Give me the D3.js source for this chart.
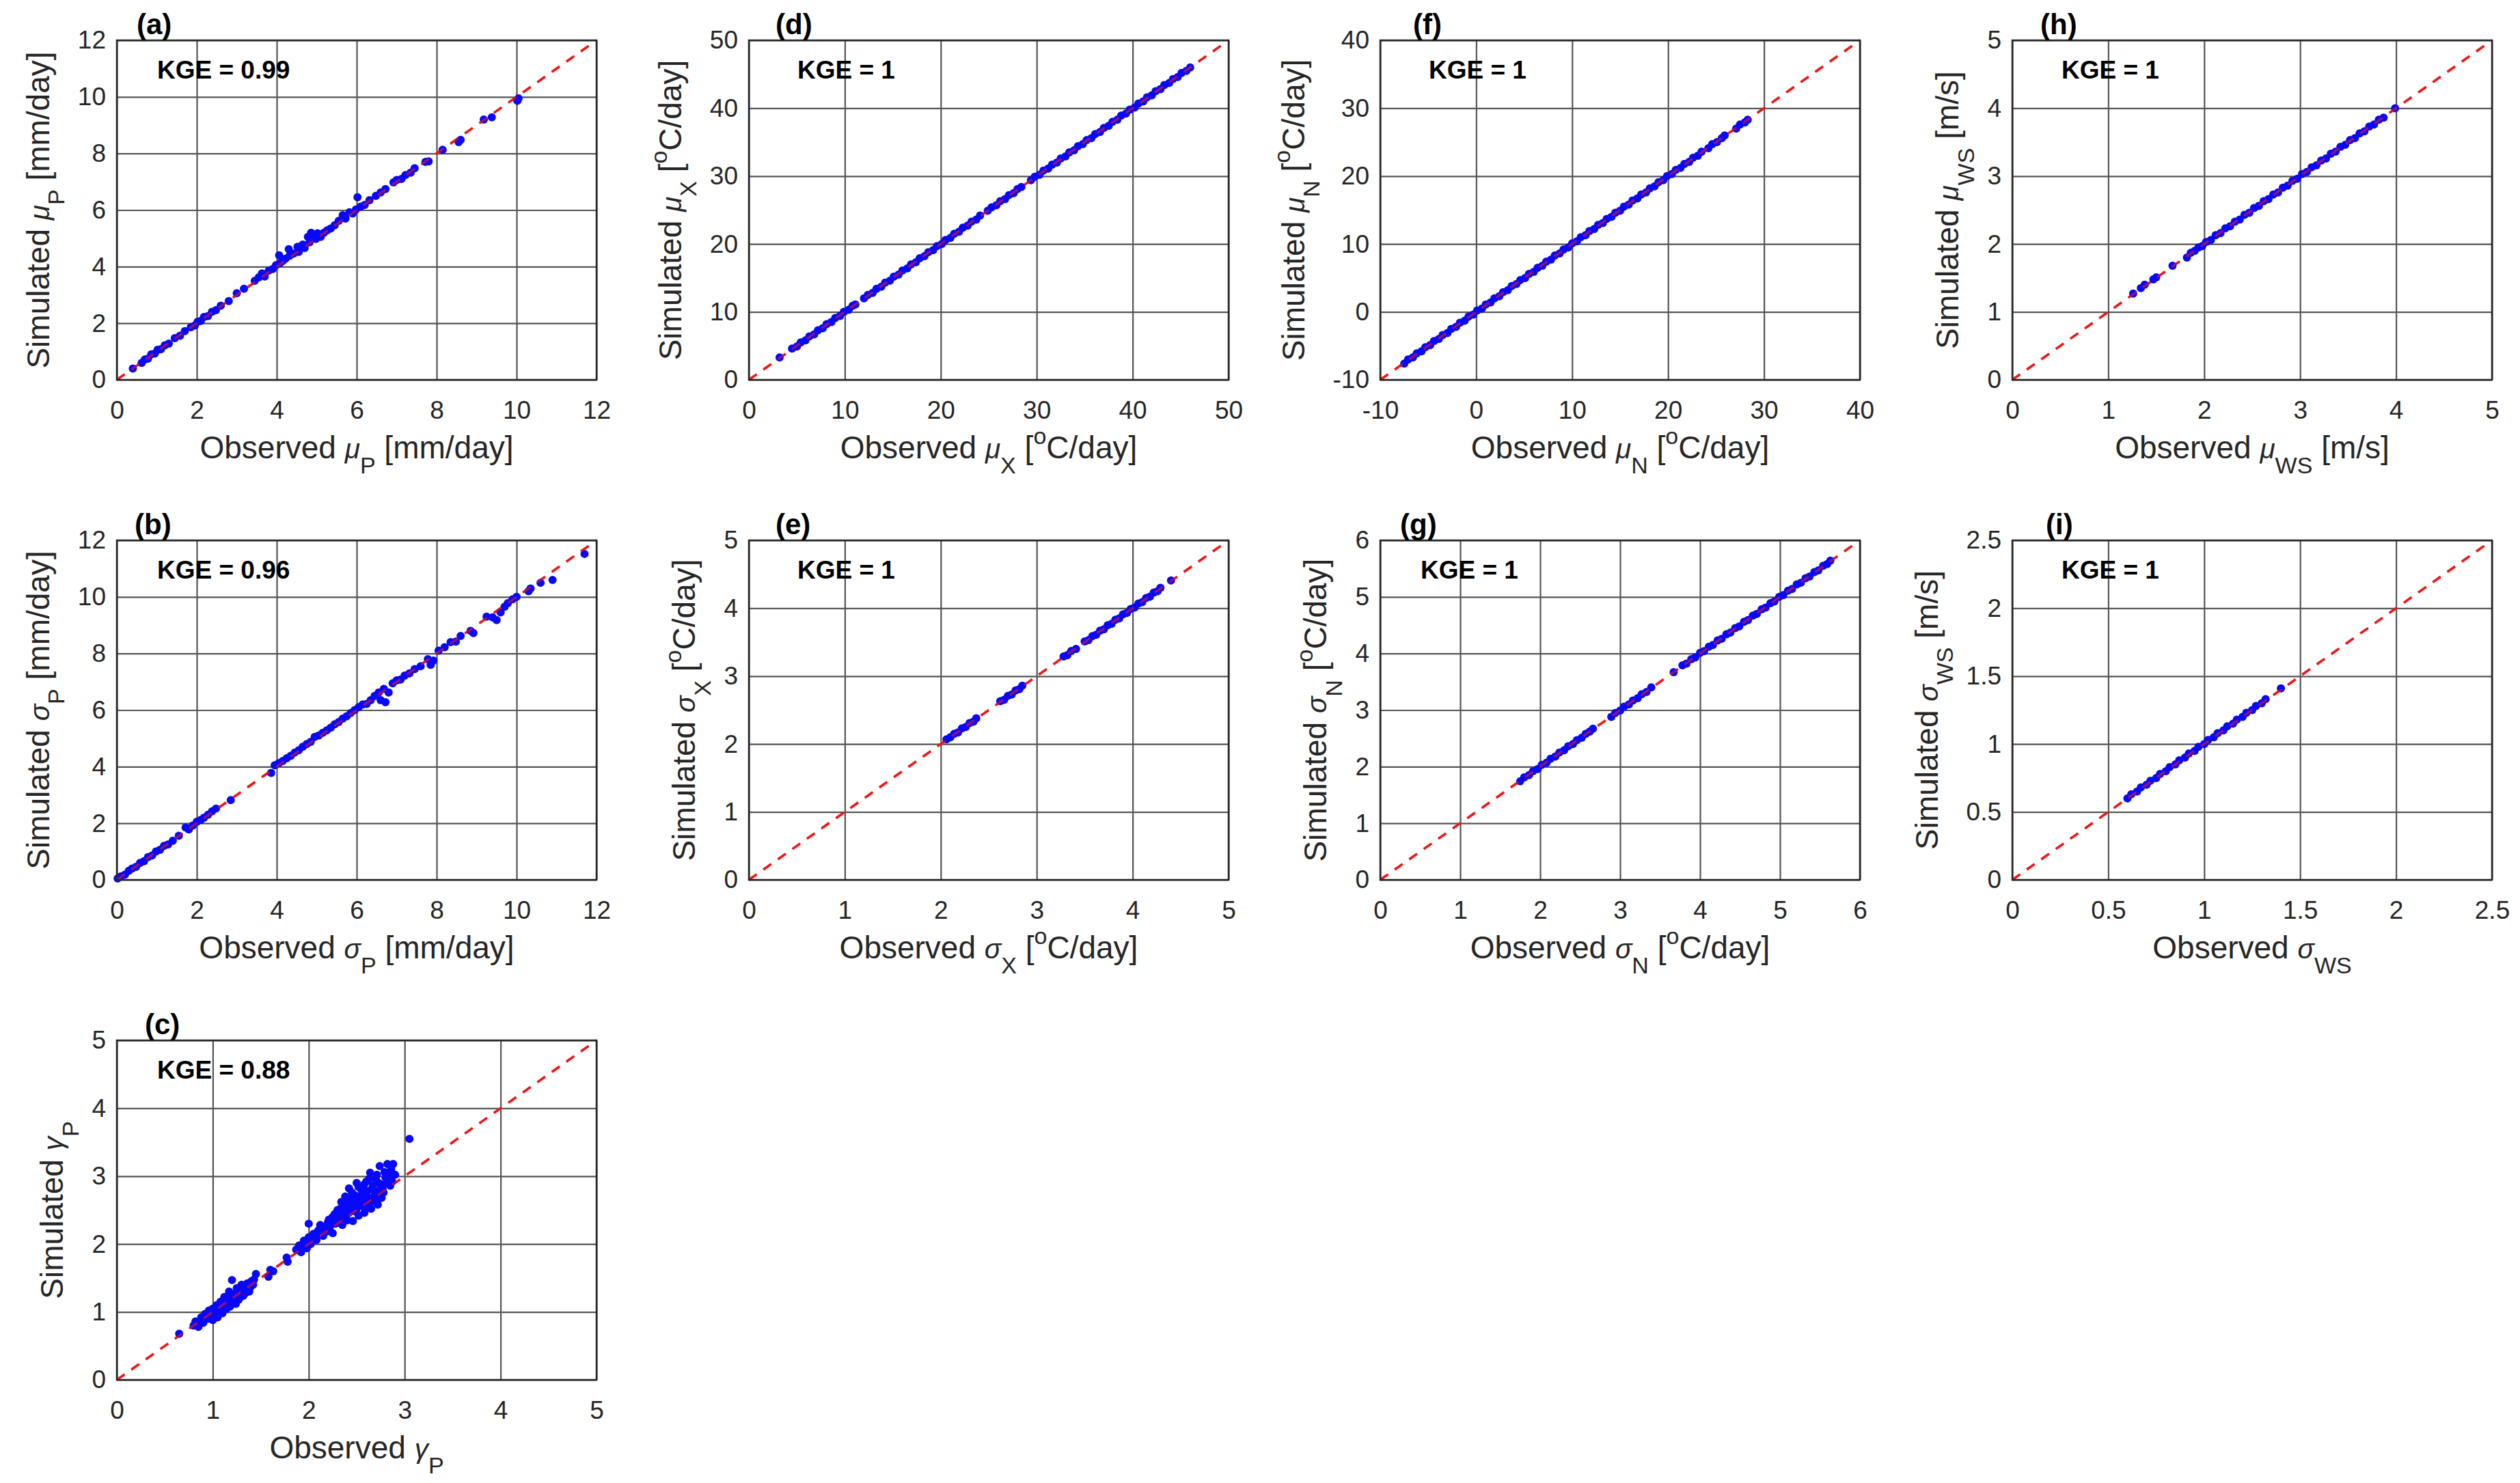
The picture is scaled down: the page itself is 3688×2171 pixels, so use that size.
<!DOCTYPE html>
<html>
<head>
<meta charset="utf-8">
<script src="https://cdn.jsdelivr.net/npm/d3@7"></script>
<style>
  body { margin: 0; background: #fff; }
  svg text { font-family: "Liberation Sans", Arial, Helvetica, sans-serif; white-space: pre; }
</style>
</head>
<body>
<svg id="fig"></svg>
<script>
// ---- data: [observed, simulated] pairs ----
const muP = [
  [0.40,0.40],[0.62,0.60],[0.70,0.72],[0.78,0.75],[0.86,0.90],[0.95,0.93],[1.02,1.06],[1.10,1.08],
  [1.20,1.22],[1.30,1.28],[1.45,1.47],[1.58,1.56],[1.70,1.72],[1.85,1.86],[1.95,1.92],[2.02,2.05],
  [2.10,2.08],[2.18,2.22],[2.28,2.25],[2.38,2.40],[2.48,2.46],[2.60,2.62],[2.80,2.78],[3.00,3.06],
  [3.18,3.22],[3.45,3.50],[3.55,3.62],[3.63,3.76],[3.70,3.65],[3.80,3.86],[3.90,3.92],[3.98,4.05],
  [4.06,4.40],[4.08,4.12],[4.15,4.20],[4.22,4.28],[4.30,4.62],[4.32,4.38],[4.42,4.46],[4.52,4.70],
  [4.55,4.52],[4.65,4.78],[4.70,4.66],[4.78,5.05],[4.82,4.86],[4.86,5.20],[4.92,5.12],[4.98,4.98],
  [5.02,5.18],[5.10,5.05],[5.18,5.20],[5.26,5.28],[5.35,5.35],[5.45,5.46],[5.55,5.62],[5.65,5.82],
  [5.72,5.70],[5.82,5.92],[5.90,5.88],[5.98,6.02],[6.02,6.45],[6.10,6.12],[6.20,6.18],[6.32,6.35],
  [6.48,6.50],[6.60,6.62],[6.72,6.74],[6.92,6.98],[7.00,7.06],[7.12,7.10],[7.22,7.24],[7.35,7.32],
  [7.45,7.48],[7.72,7.70],[7.80,7.72],[8.15,8.13],[8.55,8.40],[8.60,8.48],[9.18,9.20],[9.38,9.28],
  [10.02,9.86],[10.05,9.95]
];
const sigmaP = [
  [0.02,0.05],[0.10,0.12],[0.20,0.18],[0.30,0.32],[0.38,0.40],[0.48,0.46],[0.58,0.60],[0.68,0.66],
  [0.78,0.80],[0.88,0.86],[0.98,1.00],[1.08,1.06],[1.18,1.20],[1.28,1.25],[1.40,1.38],[1.55,1.56],
  [1.72,1.85],[1.80,1.78],[1.90,1.92],[2.00,2.05],[2.10,2.12],[2.18,2.20],[2.28,2.30],[2.38,2.42],
  [2.48,2.52],[2.85,2.82],[3.86,3.78],[3.95,4.05],[4.05,4.12],[4.15,4.20],[4.25,4.30],[4.35,4.38],
  [4.45,4.50],[4.55,4.58],[4.65,4.70],[4.75,4.80],[4.85,4.88],[4.95,5.05],[5.05,5.10],[5.15,5.20],
  [5.25,5.28],[5.35,5.38],[5.45,5.50],[5.55,5.58],[5.65,5.70],[5.75,5.78],[5.85,5.90],[5.95,6.00],
  [6.05,6.10],[6.15,6.20],[6.25,6.22],[6.35,6.35],[6.45,6.50],[6.55,6.62],[6.60,6.35],[6.68,6.75],
  [6.72,6.28],[6.80,6.62],[6.90,6.95],[7.00,7.05],[7.10,7.08],[7.20,7.22],[7.32,7.30],[7.45,7.45],
  [7.60,7.55],[7.78,7.80],[7.85,7.60],[7.92,7.75],[8.05,8.10],[8.20,8.22],[8.35,8.40],[8.48,8.42],
  [8.60,8.62],[8.85,8.80],[8.92,8.72],[9.25,9.30],[9.40,9.28],[9.50,9.18],[9.60,9.45],[9.70,9.65],
  [9.78,9.78],[9.90,9.92],[10.00,10.00],[10.30,10.20],[10.35,10.30],[10.60,10.50],[10.90,10.60],[11.70,11.52]
];
const gammaP = [
  [0.65,0.68],[0.80,0.80],[0.82,0.86],[0.85,0.78],[0.88,0.92],[0.90,0.84],[0.92,0.97],[0.95,0.90],
  [0.96,1.02],[0.98,0.94],[1.00,1.05],[1.00,0.88],[1.02,0.98],[1.04,1.10],[1.05,0.92],[1.06,1.02],
  [1.08,1.15],[1.10,0.98],[1.10,1.06],[1.12,1.22],[1.14,1.04],[1.15,1.12],[1.17,1.30],[1.18,1.08],
  [1.20,1.18],[1.20,1.47],[1.22,1.26],[1.24,1.12],[1.25,1.35],[1.27,1.18],[1.28,1.30],[1.30,1.40],
  [1.32,1.24],[1.35,1.36],[1.38,1.30],[1.40,1.45],[1.42,1.40],[1.45,1.56],[1.58,1.52],[1.60,1.62],
  [1.63,1.60],[1.77,1.80],[1.78,1.74],[1.87,1.92],[1.90,1.98],[1.92,1.88],[1.95,2.05],[1.98,1.94],
  [2.00,2.10],[2.00,2.30],[2.02,2.00],[2.05,2.15],[2.08,2.06],[2.10,2.20],[2.12,2.28],[2.15,2.12],
  [2.18,2.18],[2.20,2.32],[2.22,2.25],[2.25,2.40],[2.25,2.16],[2.28,2.30],[2.30,2.50],[2.32,2.38],
  [2.34,2.62],[2.35,2.28],[2.38,2.45],[2.38,2.70],[2.40,2.55],[2.40,2.35],[2.42,2.82],[2.44,2.48],
  [2.45,2.62],[2.46,2.34],[2.48,2.72],[2.50,2.52],[2.50,2.90],[2.52,2.42],[2.54,2.66],[2.55,2.80],
  [2.56,2.56],[2.58,2.46],[2.60,2.72],[2.60,2.92],[2.62,2.62],[2.64,3.05],[2.65,2.52],[2.66,2.82],
  [2.68,2.70],[2.70,2.96],[2.72,2.58],[2.72,2.78],[2.74,3.15],[2.75,2.88],[2.76,2.68],[2.78,2.76],
  [2.80,2.98],[2.82,3.18],[2.85,2.86],[2.88,3.18],[2.90,3.02],[3.05,3.55],
  [0.84,0.82],[0.87,0.86],[0.93,0.92],[0.97,0.99],[1.03,1.03],[1.07,1.08],[1.09,1.12],[1.13,1.10],
  [1.16,1.18],[1.19,1.24],[1.21,1.14],[1.23,1.20],[1.26,1.25],[1.29,1.22],[1.31,1.32],[1.34,1.28],
  [1.36,1.42],[1.39,1.36],[1.43,1.48],
  [1.94,1.98],[1.97,2.02],[2.03,2.08],[2.06,2.10],[2.09,2.14],[2.13,2.20],[2.16,2.24],[2.19,2.26],
  [2.21,2.36],[2.24,2.30],[2.27,2.44],[2.29,2.36],[2.31,2.44],[2.33,2.52],[2.36,2.40],[2.37,2.56],
  [2.39,2.62],[2.41,2.45],[2.43,2.66],[2.43,2.56],[2.45,2.76],[2.47,2.60],[2.49,2.48],[2.51,2.68],
  [2.52,2.84],[2.53,2.58],[2.55,2.72],[2.57,2.64],[2.58,2.88],[2.59,2.54],[2.61,2.78],[2.63,2.68],
  [2.63,2.96],[2.65,2.62],[2.67,2.86],[2.69,2.76],[2.70,2.64],[2.71,3.02],[2.73,2.90],[2.77,2.82],
  [2.79,3.06],[2.81,2.90],[2.84,3.00],[2.86,3.10],[2.87,2.92]
];
const muX = [
  [3.2,3.3],[4.5,4.6],[5.0,4.9],[5.4,5.5],[5.9,5.8],[6.3,6.4],[6.8,6.7],[7.2,7.3],[7.7,7.6],[8.1,8.2],
  [8.6,8.5],[9.0,9.1],[9.5,9.4],[9.9,10.0],[10.4,10.3],[10.8,10.9],[11.1,11.1],[12.0,12.0],[12.4,12.5],
  [12.9,12.8],[13.3,13.4],[13.8,13.7],[14.2,14.3],[14.7,14.6],[15.1,15.2],[15.6,15.5],[16.0,16.1],
  [16.5,16.4],[16.9,17.0],[17.4,17.3],[17.8,17.9],[18.3,18.2],[18.7,18.8],[19.2,19.1],[19.6,19.7],
  [20.1,20.0],[20.5,20.6],[21.0,20.9],[21.4,21.5],[21.9,21.8],[22.3,22.4],[22.8,22.7],[23.2,23.3],
  [23.7,23.6],[24.1,24.2],[24.9,24.9],[25.3,25.4],[25.8,25.7],[26.2,26.3],[26.7,26.6],[27.1,27.2],
  [27.6,27.5],[28.0,28.1],[28.4,28.4],[29.4,29.4],[29.8,29.9],[30.3,30.2],[30.7,30.8],[31.2,31.1],
  [31.6,31.7],[32.1,32.0],[32.5,32.6],[33.0,32.9],[33.4,33.5],[33.9,33.8],[34.3,34.4],[34.8,34.7],
  [35.2,35.3],[35.7,35.6],[36.1,36.2],[36.6,36.5],[37.0,37.1],[37.5,37.4],[37.9,38.0],[38.4,38.3],
  [38.8,38.9],[39.3,39.2],[39.7,39.8],[40.2,40.1],[40.6,40.7],[41.1,41.0],[41.5,41.6],[42.0,41.9],
  [42.4,42.5],[42.9,42.8],[43.3,43.4],[43.8,43.7],[44.2,44.3],[44.7,44.6],[45.1,45.2],[45.6,45.5],[46.0,46.0]
];
const sigmaX = [
  [2.06,2.07],[2.10,2.10],[2.14,2.15],[2.18,2.17],[2.22,2.23],[2.26,2.25],[2.30,2.31],[2.34,2.33],
  [2.37,2.38],[2.62,2.63],[2.66,2.65],[2.70,2.71],[2.74,2.73],[2.78,2.79],[2.82,2.81],[2.85,2.86],
  [3.28,3.29],[3.32,3.31],[3.36,3.37],[3.41,3.40],[3.50,3.51],[3.54,3.53],[3.58,3.59],[3.62,3.61],
  [3.66,3.67],[3.70,3.69],[3.74,3.75],[3.78,3.77],[3.82,3.83],[3.86,3.85],[3.90,3.91],[3.94,3.93],
  [3.98,3.99],[4.02,4.01],[4.06,4.07],[4.10,4.09],[4.14,4.15],[4.18,4.17],[4.22,4.23],[4.26,4.25],
  [4.29,4.30],[4.40,4.41]
];
const muN = [
  [-7.5,-7.6],[-7.1,-7.0],[-6.6,-6.7],[-6.2,-6.1],[-5.7,-5.8],[-5.3,-5.2],[-4.8,-4.9],[-4.4,-4.3],
  [-3.9,-4.0],[-3.5,-3.4],[-3.0,-3.1],[-2.6,-2.5],[-2.1,-2.2],[-1.7,-1.6],[-1.2,-1.3],[-0.8,-0.7],
  [-0.3,-0.4],[0.1,0.2],[0.6,0.5],[1.0,1.1],[1.5,1.4],[1.9,2.0],[2.4,2.3],[2.8,2.9],[3.3,3.2],
  [3.7,3.8],[4.2,4.1],[4.6,4.7],[5.1,5.0],[5.5,5.6],[6.0,5.9],[6.4,6.5],[6.9,6.8],[7.3,7.4],
  [7.8,7.7],[8.2,8.3],[8.7,8.6],[9.1,9.2],[9.6,9.5],[10.0,10.1],[10.5,10.4],[10.9,11.0],[11.4,11.3],
  [11.8,11.9],[12.3,12.2],[12.7,12.8],[13.2,13.1],[13.6,13.7],[14.1,14.0],[14.5,14.6],[15.0,14.9],
  [15.4,15.5],[15.9,15.8],[16.3,16.4],[16.8,16.7],[17.2,17.3],[17.7,17.6],[18.1,18.2],[18.6,18.5],
  [19.0,19.1],[19.5,19.4],[19.9,20.0],[20.4,20.3],[20.8,20.9],[21.3,21.2],[21.7,21.8],[22.2,22.1],
  [22.6,22.7],[23.1,23.0],[23.5,23.6],[24.2,24.1],[24.6,24.7],[25.1,25.0],[25.6,25.6],[25.9,26.0],
  [27.1,27.0],[27.5,27.6],[28.0,27.9],[28.3,28.3]
];
const sigmaN = [
  [1.75,1.74],[1.80,1.81],[1.86,1.85],[1.91,1.92],[1.97,1.96],[2.02,2.03],[2.08,2.07],[2.13,2.14],
  [2.19,2.18],[2.24,2.25],[2.30,2.29],[2.35,2.36],[2.41,2.40],[2.46,2.47],[2.52,2.51],[2.57,2.58],
  [2.62,2.62],[2.66,2.67],[2.89,2.88],[2.94,2.95],[3.00,2.99],[3.05,3.06],[3.11,3.10],[3.16,3.17],
  [3.22,3.21],[3.27,3.28],[3.33,3.32],[3.39,3.40],[3.67,3.67],[3.78,3.79],[3.83,3.82],[3.89,3.90],
  [3.94,3.93],[4.00,4.01],[4.05,4.04],[4.11,4.12],[4.16,4.15],[4.22,4.23],[4.27,4.26],[4.33,4.34],
  [4.38,4.37],[4.44,4.45],[4.49,4.48],[4.55,4.56],[4.60,4.59],[4.66,4.67],[4.71,4.70],[4.77,4.78],
  [4.82,4.81],[4.88,4.89],[4.93,4.92],[4.99,5.00],[5.04,5.03],[5.10,5.11],[5.15,5.14],[5.21,5.22],
  [5.26,5.25],[5.32,5.33],[5.37,5.36],[5.43,5.44],[5.48,5.47],[5.54,5.55],[5.59,5.58],[5.63,5.64]
];
const muWS = [
  [1.26,1.27],[1.34,1.35],[1.38,1.40],[1.47,1.48],[1.50,1.51],[1.67,1.68],[1.82,1.80],[1.86,1.87],
  [1.90,1.90],[1.94,1.95],[1.98,1.97],[2.02,2.03],[2.07,2.06],[2.12,2.13],[2.17,2.16],[2.22,2.23],
  [2.27,2.26],[2.32,2.33],[2.37,2.36],[2.42,2.43],[2.47,2.46],[2.52,2.53],[2.57,2.56],[2.62,2.63],
  [2.67,2.66],[2.72,2.73],[2.77,2.76],[2.82,2.83],[2.87,2.86],[2.92,2.93],[2.97,2.96],[3.02,3.03],
  [3.07,3.06],[3.12,3.13],[3.17,3.16],[3.22,3.23],[3.27,3.26],[3.32,3.33],[3.37,3.36],[3.42,3.43],
  [3.47,3.46],[3.52,3.53],[3.57,3.56],[3.62,3.63],[3.67,3.66],[3.72,3.73],[3.77,3.76],[3.82,3.83],
  [3.87,3.86],[3.99,4.00]
];
const sigmaWS = [
  [0.60,0.60],[0.62,0.63],[0.65,0.65],[0.67,0.68],[0.70,0.70],[0.72,0.73],[0.75,0.75],[0.77,0.78],
  [0.80,0.80],[0.82,0.83],[0.85,0.85],[0.87,0.88],[0.90,0.90],[0.92,0.93],[0.95,0.95],[0.97,0.98],
  [1.00,1.00],[1.02,1.03],[1.05,1.05],[1.07,1.08],[1.10,1.10],[1.12,1.13],[1.15,1.15],[1.17,1.18],
  [1.20,1.20],[1.22,1.23],[1.25,1.25],[1.27,1.28],[1.30,1.30],[1.32,1.33],[1.40,1.41]
];

// tick values
const ticks12 = [0, 2, 4, 6, 8, 10, 12];
const ticks5 = [0, 1, 2, 3, 4, 5];
const ticks50 = [0, 10, 20, 30, 40, 50];
const ticksN = [-10, 0, 10, 20, 30, 40];
const ticks6 = [0, 1, 2, 3, 4, 5, 6];
const ticks25 = [0, 0.5, 1, 1.5, 2, 2.5];

// label pieces
const unitMM = [{t: ' [mm/day]'}];
const unitC = [{t: ' ['}, {t: 'o', sup: true}, {t: 'C/day]'}];
const unitMS = [{t: ' [m/s]'}];
const sym = (g, s) => [{t: g, greek: true}, {t: s, sub: true}];

const panels = [
  {tag: '(a)', data: muP, ticks: ticks12, kge: '0.99', col: 0, row: 0, q: sym('μ', 'P'), yu: unitMM, xu: unitMM, kx: 59, lx: 29},
  {tag: '(b)', data: sigmaP, ticks: ticks12, kge: '0.96', col: 0, row: 1, q: sym('σ', 'P'), yu: unitMM, xu: unitMM, kx: 59, lx: 26},
  {tag: '(c)', data: gammaP, ticks: ticks5, kge: '0.88', col: 0, row: 2, q: sym('γ', 'P'), yu: [], xu: [], kx: 59, lx: 41},
  {tag: '(d)', data: muX, ticks: ticks50, kge: '1', col: 1, row: 0, q: sym('μ', 'X'), yu: unitC, xu: unitC, kx: 71, lx: 39},
  {tag: '(e)', data: sigmaX, ticks: ticks5, kge: '1', col: 1, row: 1, q: sym('σ', 'X'), yu: unitC, xu: unitC, kx: 71, lx: 39},
  {tag: '(f)', data: muN, ticks: ticksN, kge: '1', col: 2, row: 0, q: sym('μ', 'N'), yu: unitC, xu: unitC, kx: 71, lx: 48},
  {tag: '(g)', data: sigmaN, ticks: ticks6, kge: '1', col: 2, row: 1, q: sym('σ', 'N'), yu: unitC, xu: unitC, kx: 59, lx: 29},
  {tag: '(h)', data: muWS, ticks: ticks5, kge: '1', col: 3, row: 0, q: sym('μ', 'WS'), yu: unitMS, xu: unitMS, kx: 72, lx: 41},
  {tag: '(i)', data: sigmaWS, ticks: ticks25, kge: '1', col: 3, row: 1, q: sym('σ', 'WS'), yu: unitMS, xu: [], kx: 72, lx: 49}
];

// ---- layout ----
const config = {
  width: 3688, height: 2171,
  colLeft: [171, 1096, 2020, 2945],
  rowTop: [59, 791, 1523],
  axW: 702, axH: 497,
  tickSize: 37, labelSize: 46, kgeSize: 37, tagSize: 42,
  pointR: 6
};

const svg = d3.select('#fig')
  .attr('width', config.width)
  .attr('height', config.height)
  .style('background', '#fff');

// writes text segments with sub/superscripts as tspans
function addSegs(text, segs, size) {
  let shift = 0;
  segs.forEach(s => {
    const target = s.sub ? 0.48 * size : s.sup ? -0.45 * size : 0;
    const ts = text.append('tspan').text(s.t);
    if (target !== shift) ts.attr('dy', target - shift);
    shift = target;
    if (s.sub || s.sup) ts.attr('font-size', size * 0.74);
    if (s.greek) ts.attr('font-style', 'italic').attr('font-size', size * 0.88);
  });
}

const fmt = d => String(d);

panels.forEach(p => {
  const W = config.axW, H = config.axH;
  const dom = [p.ticks[0], p.ticks[p.ticks.length - 1]];
  const x = d3.scaleLinear().domain(dom).range([0, W]);
  const y = d3.scaleLinear().domain(dom).range([H, 0]);

  const g = svg.append('g')
    .attr('transform', `translate(${config.colLeft[p.col]},${config.rowTop[p.row]})`);

  // axes with gridlines
  const xAxisG = g.append('g')
    .attr('transform', `translate(0,${H})`)
    .call(d3.axisBottom(x).tickValues(p.ticks).tickSize(-H).tickPadding(31).tickFormat(fmt))
    .call(a => a.select('.domain').remove());
  const yAxisG = g.append('g')
    .call(d3.axisLeft(y).tickValues(p.ticks).tickSize(-W).tickPadding(16).tickFormat(fmt))
    .call(a => a.select('.domain').remove());

  [xAxisG, yAxisG].forEach(a => {
    a.selectAll('.tick line').attr('stroke', '#555').attr('stroke-width', 2.2);
    a.selectAll('.tick text')
      .attr('font-size', config.tickSize)
      .attr('fill', '#262626')
      .attr('font-family', '"Liberation Sans", Arial, sans-serif');
  });

  const diag = sel => sel
    .attr('x1', x(dom[0])).attr('y1', y(dom[0]))
    .attr('x2', x(dom[1])).attr('y2', y(dom[1]))
    .attr('stroke-width', 3.5)
    .attr('stroke-dasharray', '14,12');

  // 1:1 line under the points
  g.append('line').call(diag).attr('stroke', '#f01818');

  // scatter points
  g.append('g').selectAll('circle')
    .data(p.data)
    .join('circle')
    .attr('cx', d => x(d[0]))
    .attr('cy', d => y(d[1]))
    .attr('r', config.pointR)
    .attr('fill', '#0808fa');

  // 1:1 line again, translucent on top of the points
  g.append('line').call(diag).attr('stroke', '#f01818').attr('stroke-opacity', 0.6);

  // axes box
  g.append('rect')
    .attr('width', W).attr('height', H)
    .attr('fill', 'none')
    .attr('stroke', '#262626')
    .attr('stroke-width', 2.5);

  // KGE annotation
  g.append('text')
    .attr('x', p.kx).attr('y', 56)
    .attr('font-size', config.kgeSize)
    .attr('font-weight', 'bold')
    .attr('fill', '#000')
    .text('KGE = ' + p.kge);

  // panel tag
  g.append('text')
    .attr('x', p.lx).attr('y', -9)
    .attr('font-size', config.tagSize)
    .attr('font-weight', 'bold')
    .attr('fill', '#000')
    .text(p.tag);

  // x label
  const xl = g.append('text')
    .attr('x', W / 2).attr('y', H + 115)
    .attr('text-anchor', 'middle')
    .attr('font-size', config.labelSize)
    .attr('fill', '#262626');
  addSegs(xl, [{t: 'Observed '}].concat(p.q, p.xu), config.labelSize);

  // y label, placed left of the widest tick label
  let tickW = 0;
  yAxisG.selectAll('.tick text').each(function() {
    tickW = Math.max(tickW, this.getComputedTextLength());
  });
  const yx = -(16 + tickW + 42);
  const yl = g.append('text')
    .attr('transform', `translate(${yx},${H / 2}) rotate(-90)`)
    .attr('text-anchor', 'middle')
    .attr('font-size', config.labelSize)
    .attr('fill', '#262626');
  addSegs(yl, [{t: 'Simulated '}].concat(p.q, p.yu), config.labelSize);
});
</script>
</body>
</html>
